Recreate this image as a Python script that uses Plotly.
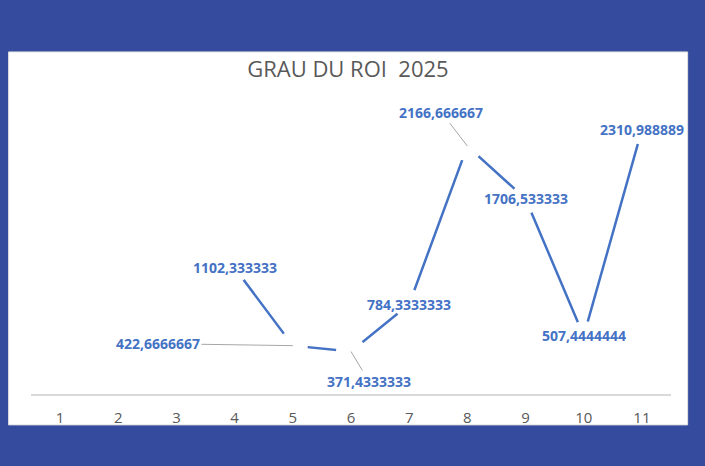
import plotly.graph_objects as go

categories = [1, 2, 3, 4, 5, 6, 7, 8, 9, 10, 11]
x_values = [4, 5, 6, 7, 8, 9, 10, 11]
y_values = [1102.333333, 422.6666667, 371.4333333, 784.3333333,
            2166.666667, 1706.533333, 507.4444444, 2310.988889]
labels = ["1102,333333", "422,6666667", "371,4333333", "784,3333333",
          "2166,666667", "1706,533333", "507,4444444", "2310,988889"]

# label offsets in px (0, 0 = centred on the point)
label_offsets = [(0, 0), (-135, -2), (18, 30), (0, 0),
                 (-26, -34), (0, 0), (0, 0), (0, 0)]

line_blue = '#4472C4'
frame_blue = '#354b9e'

fig = go.Figure()
fig.add_trace(go.Scatter(
    x=x_values,
    y=y_values,
    mode='lines+markers',
    line=dict(color=line_blue, width=2.5),
    marker=dict(size=30, color='white', line=dict(width=0)),
    hoverinfo='skip',
    showlegend=False
))

for xv, yv, txt, (dx, dy) in zip(x_values, y_values, labels, label_offsets):
    leader = (dx, dy) != (0, 0)
    fig.add_annotation(
        x=xv, y=yv, text=txt,
        showarrow=leader,
        ax=dx, ay=dy,
        arrowhead=0, arrowwidth=1, arrowcolor='#a6a6a6', standoff=0,
        font=dict(family='Open Sans', size=14, color=line_blue, weight='bold'),
        xanchor='center', yanchor='middle'
    )

# white chart area on the blue frame
fig.add_shape(
    type='rect', xref='paper', yref='paper',
    x0=-0.035, x1=1.026, y0=-0.108, y1=1.196,
    fillcolor='white', line=dict(color='#e0e0e0', width=1), layer='below'
)

fig.update_layout(
    width=705, height=466,
    paper_bgcolor=frame_blue,
    plot_bgcolor='rgba(0,0,0,0)',
    margin=dict(l=31, r=34, t=108, b=72),
    title=dict(
        text='GRAU DU ROI\u00a0 2025',
        x=0.4935, xanchor='center',
        y=0.852, yanchor='middle',
        font=dict(family='Open Sans', size=22, color='#595959')
    ),
    xaxis=dict(
        range=[0.5, 11.5],
        tickvals=categories,
        ticktext=[str(c) for c in categories],
        showgrid=False, zeroline=False,
        showline=True, linecolor='#d9d9d9', linewidth=1.5,
        ticks='', ticklen=0, ticklabelstandoff=9,
        tickfont=dict(family='Open Sans', size=15, color='#595959')
    ),
    yaxis=dict(
        range=[0, 2500],
        visible=False,
        showgrid=False, zeroline=False
    ),
    showlegend=False
)

fig.write_html("out.html", config={'displayModeBar': False},
               post_script="document.body.style.margin='0';")
